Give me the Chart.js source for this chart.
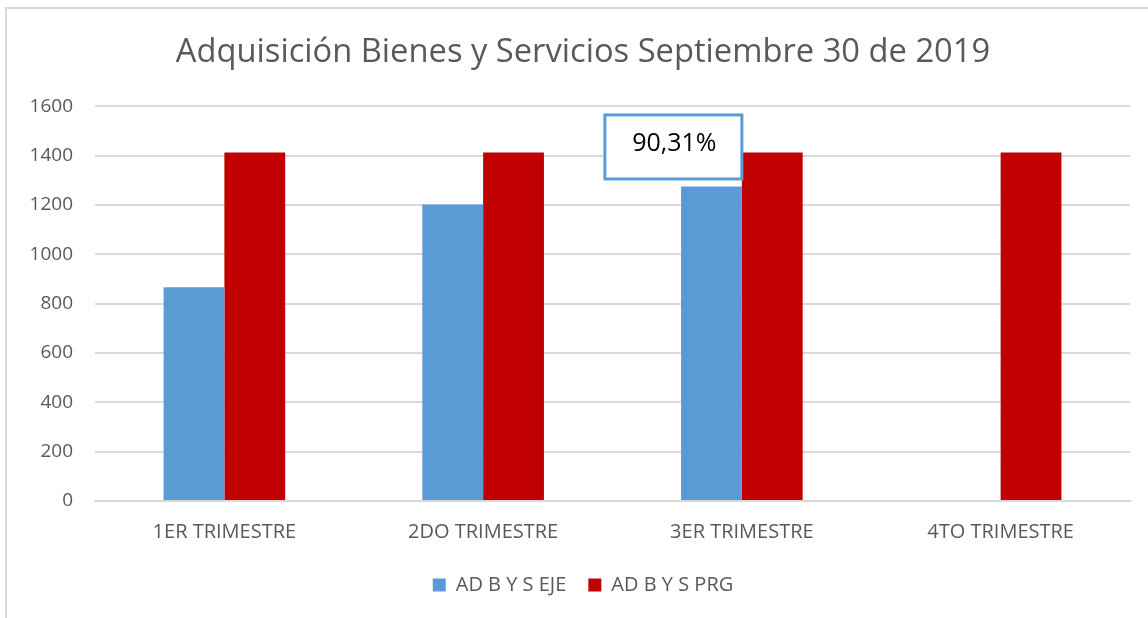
<!DOCTYPE html>
<html>
<head>
<meta charset="utf-8">
<script src="https://cdn.jsdelivr.net/npm/chart.js@4"></script>
<style>
  body { margin: 0; background: #fff; overflow: hidden; }
  #wrap { position: absolute; left: 0; top: 0; width: 1148px; height: 618px; }
  #frame { position: absolute; left: 5px; top: 7px; width: 1200px; height: 700px;
           border-top: 2px solid #d9d9d9; border-left: 2px solid #d9d9d9; }
</style>
</head>
<body>
<div id="frame"></div>
<div id="wrap"><canvas id="chart_bienes"></canvas></div>
<script>
const categorias = ["1ER TRIMESTRE", "2DO TRIMESTRE", "3ER TRIMESTRE", "4TO TRIMESTRE"];
const ejecutado = [866, 1202, 1275, 0];
const programado = [1412, 1412, 1412, 1412];
const nota = "90,31%";

const fuente = '"Open Sans"';
Chart.defaults.font.family = fuente;

// caja con el porcentaje sobre el 3er trimestre
const notaPlugin = {
  id: 'nota',
  afterLayout(chart) {
    // titulo y leyenda un poco a la derecha, como en el original
    [chart.titleBlock, chart.legend].forEach(b => { if (b) { b.left += 15; b.right += 15; } });
  },
  afterDraw(chart) {
    const ctx = chart.ctx;
    const x = chart.scales.x.getPixelForValue(2);
    const y = chart.scales.y.getPixelForValue(1435);
    const w = 137, h = 64;
    ctx.save();
    ctx.fillStyle = '#fff';
    ctx.fillRect(x - w, y - h / 2, w, h);
    ctx.strokeStyle = '#5b9bd5';
    ctx.lineWidth = 3;
    ctx.strokeRect(x - w, y - h / 2, w, h);
    ctx.fillStyle = '#000';
    ctx.font = '25px ' + fuente;
    ctx.textAlign = 'center';
    ctx.textBaseline = 'middle';
    ctx.fillText(nota, x - w / 2 + 1, y - 3);
    ctx.restore();
  }
};

function dibujar() {
  new Chart(document.getElementById("chart_bienes"), {
    type: 'bar',
    data: {
      labels: categorias,
      datasets: [{
        label: "AD B Y S EJE",
        backgroundColor: "#5b9bd5",
        data: ejecutado
      }, {
        label: "AD B Y S PRG",
        backgroundColor: "#c00000",
        data: programado
      }]
    },
    plugins: [notaPlugin],
    options: {
        responsive: true,
        maintainAspectRatio: false,
        animation: false,
        datasets: { bar: { categoryPercentage: 0.47, barPercentage: 1.0 } },
        layout: { padding: { left: 6, right: 18, top: 0, bottom: 13 } },
        plugins: {
            title: {
                display: true,
                text: "Adquisición Bienes y Servicios Septiembre 30 de 2019",
                color: '#595959',
                font: { size: 32.7, weight: 'normal' },
                padding: { top: 33, bottom: 34 }
            },
            legend: {
                position: 'bottom',
                labels: {
                    color: '#595959',
                    font: { size: 20 },
                    boxWidth: 13,
                    boxHeight: 13,
                    padding: 22
                }
            },
            tooltip: { enabled: false }
        },
        scales: {
            x: {
                grid: { display: false },
                border: { color: '#d9d9d9', width: 2 },
                ticks: { color: '#595959', font: { size: 20 }, padding: 11 },
                afterFit: s => { s.height = 52; }
            },
            y: {
                min: 0,
                max: 1600,
                ticks: { stepSize: 200, color: '#595959', font: { size: 19 }, padding: 22,
                         callback: v => String(v) },
                grid: { color: '#d9d9d9', lineWidth: 2, drawTicks: false },
                border: { display: false },
                afterFit: s => { s.width = 89; }
            }
        }
    }
  });
}

document.fonts.load('16px "Open Sans"').then(dibujar, dibujar);
</script>
</body>
</html>
